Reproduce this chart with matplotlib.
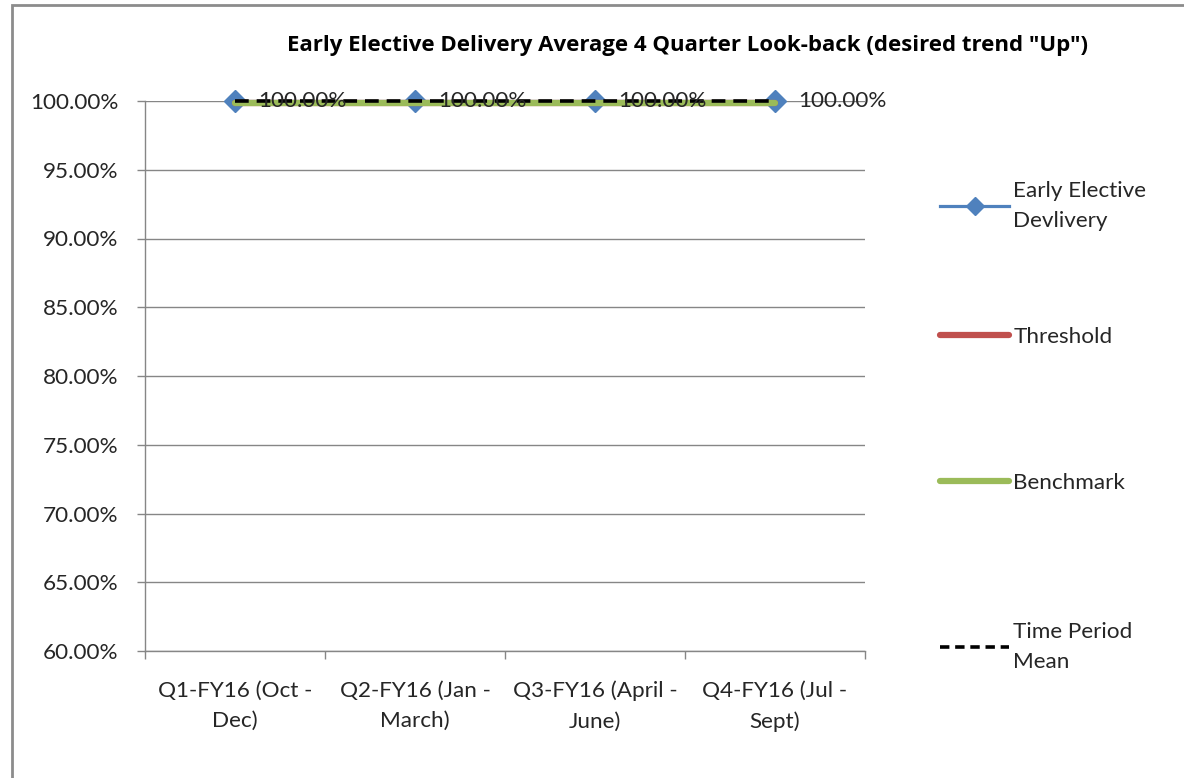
import matplotlib
matplotlib.use("Agg")
import matplotlib.pyplot as plt
from matplotlib.lines import Line2D
from matplotlib.patches import Rectangle
from matplotlib.ticker import FuncFormatter, FixedLocator

plt.rcParams['font.family'] = ['Lato', 'DejaVu Sans']

# quarterly values (percent)
quarters = ['Q1-FY16 (Oct -\nDec)', 'Q2-FY16 (Jan -\nMarch)',
            'Q3-FY16 (April -\nJune)', 'Q4-FY16 (Jul -\nSept)']
eed = [100.0, 100.0, 100.0, 100.0]
threshold = [99.85, 99.85, 99.85, 99.85]
benchmark = [99.85, 99.85, 99.85, 99.85]
period_mean = [100.0, 100.0, 100.0, 100.0]

blue = '#4f81bd'
red = '#c0504d'
green = '#9bbb59'
grid_c = '#868686'
txt_c = '#262626'
fs = 16.2

fig = plt.figure(figsize=(11.84, 7.78), dpi=100)
ax = fig.add_axes([145 / 1184, 1 - 651 / 778, 720 / 1184, 550 / 778])

x = list(range(len(quarters)))
ax.plot(x, eed, color=blue, lw=2.3, marker='D', ms=11.5, zorder=3, clip_on=False)
ax.plot(x, threshold, color=red, lw=4.5, solid_capstyle='round', zorder=4, clip_on=False)
ax.plot(x, benchmark, color=green, lw=4.5, solid_capstyle='round', zorder=5, clip_on=False)
ax.plot(x, period_mean, color='black', lw=2.6, dashes=(3.8, 2.2), zorder=6, clip_on=False)

# value labels to the right of each point
for xi, v in zip(x, eed):
    ax.annotate(f'{v:.2f}%', (xi, v), xytext=(17, 0), textcoords='offset points',
                ha='left', va='center', fontsize=fs, color=txt_c, zorder=7,
                annotation_clip=False)

ax.set_xlim(-0.5, 3.5)
ax.set_ylim(60, 100)
ax.set_yticks([60, 65, 70, 75, 80, 85, 90, 95, 100])
ax.yaxis.set_major_formatter(FuncFormatter(lambda v, p: f'{v:.2f}%'))
ax.set_xticks(x)
ax.set_xticklabels(quarters, linespacing=1.62)
ax.xaxis.set_minor_locator(FixedLocator([-0.5, 0.5, 1.5, 2.5, 3.5]))
ax.tick_params(axis='x', which='major', length=0, pad=21.5, labelsize=fs, colors=txt_c)
ax.tick_params(axis='x', which='minor', length=6, color=grid_c, width=1)
ax.tick_params(axis='y', length=6, color=grid_c, width=1, pad=13, labelsize=fs,
               labelcolor=txt_c)
ax.grid(axis='y', color=grid_c, lw=1)
ax.set_axisbelow(True)
for s in ['top', 'right']:
    ax.spines[s].set_visible(False)
for s in ['left', 'bottom']:
    ax.spines[s].set_color(grid_c)
    ax.spines[s].set_linewidth(1)

fig.text(688 / 1184, 1 - 45 / 778,
         'Early Elective Delivery Average 4 Quarter Look-back (desired trend "Up")',
         ha='center', va='center', fontsize=16, fontweight='bold', color='black',
         family=['Open Sans', 'DejaVu Sans'])

# legend entries, each placed on its own
entries = [
    (Line2D([], [], color=blue, lw=2.3, marker='D', ms=9), 'Early Elective\nDevlivery', 206),
    (Line2D([], [], color=red, lw=4.5, solid_capstyle='round'), 'Threshold', 337),
    (Line2D([], [], color=green, lw=4.5, solid_capstyle='round'), 'Benchmark', 483),
    (Line2D([], [], color='black', lw=2.6, dashes=(2.6, 1.6)), 'Time Period\nMean', 647),
]
for h, lab, yc in entries:
    leg = fig.legend([h], [lab], loc='center left', bbox_to_anchor=(920 / 1184, 1 - yc / 778),
                     frameon=False, fontsize=fs, handlelength=3.05, handletextpad=0.2,
                     labelcolor=txt_c)
    for t in leg.get_texts():
        t.set_linespacing(1.65)

# outer chart border
fig.add_artist(Rectangle((12 / 1184, -0.05), 1.1, 1 - 5 / 778 + 0.05,
                         transform=fig.transFigure, fill=False,
                         edgecolor='#8c8c8c', lw=2))

fig.savefig('out.png', dpi=100)
